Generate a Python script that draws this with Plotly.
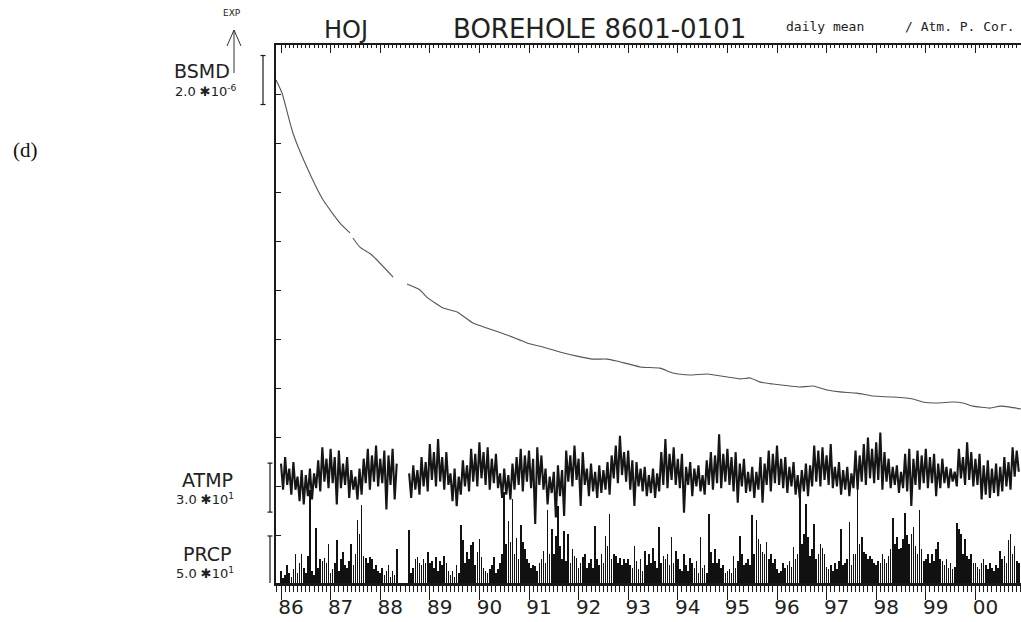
import plotly.graph_objects as go

# ---------------- data ----------------
year_ticks = list(range(1986, 2001))
year_labels = ["86", "87", "88", "89", "90", "91", "92", "93", "94", "95",
               "96", "97", "98", "99", "00"]

# BSMD (borehole strain, relative, units of 1e-6)
bsmd_t = [1985.90, 1986.02, 1986.24, 1986.52, 1986.85, 1987.19, 1987.39, None,
          1987.45, 1987.59, 1987.83, 1988.26, None,
          1988.54, 1988.80, 1988.94, 1989.27, 1989.55, 1989.87, 1990.15, 1990.56,
          1990.96, 1991.28, 1991.62, 1991.97, 1992.29, 1992.57, 1992.77, 1993.24,
          1993.64, 1993.90, 1994.25, 1994.59, 1995.00, 1995.26, 1995.46, 1995.66,
          1995.92, 1996.26, 1996.46, 1996.73, 1997.01, 1997.27, 1997.61, 1997.94,
          1998.34, 1998.74, 1998.94, 1999.23, 1999.55, 1999.75, 1999.95, 2000.29,
          2000.50, 2000.70, 2000.92]
bsmd_v = [0.00, -0.53, -2.16, -3.55, -4.90, -5.84, -6.24, None,
          -6.45, -6.82, -7.14, -8.04, None,
          -8.33, -8.57, -8.86, -9.31, -9.47, -9.92, -10.12, -10.41,
          -10.73, -10.90, -11.10, -11.27, -11.39, -11.39, -11.47, -11.71,
          -11.76, -11.96, -12.04, -12.00, -12.12, -12.20, -12.16, -12.33,
          -12.41, -12.49, -12.53, -12.49, -12.65, -12.73, -12.78, -12.90,
          -12.94, -13.02, -13.14, -13.18, -13.14, -13.18, -13.31, -13.39,
          -13.31, -13.35, -13.43]

# ATMP (air temperature), half-monthly samples starting 1986.0
atmp_start = 1986.0
atmp_step = 1.0 / 24
atmp = [
    17, 1, 21, 4, 14, -2, 18, 1, 9, -6, 13, -8, 10, -3, 14, -5, 11, 2, 19, 0, 27, 6, 20, 2,           # 1986
    26, 5, 21, -8, 25, 2, 17, 4, 21, -4, 13, 1, 9, -5, 14, -2, 20, 5, 26, 1, 22, 6, 28, 3,            # 1987
    20, 5, 25, -11, 22, 4, 26, -5, 17, None, None, None, None, None, 11, -4, 16, 1, 13, -2, 21, 3, 18, 0,  # 1988
    29, 7, 24, 3, 32, 6, 21, 1, 24, 4, 11, -6, 14, -9, 9, -2, 19, 3, 16, 0, 26, 6, 23, 3,             # 1989
    30, 8, 24, 4, 27, 1, 20, 5, 23, 2, 11, -4, 14, -2, 10, -5, 17, 1, 21, 4, 26, 0, 22, 6,            # 1990
    25, 2, 20, -20, 27, 4, 22, 1, 14, -8, 9, -1, 12, -16, 16, -3, 13, -15, 25, 6, 22, 3, 28, 7,       # 1991
    20, -9, 24, 4, 14, -3, 17, 0, 12, -4, 16, -1, 13, 1, 18, -2, 22, 8, 28, 5, 34, 10, 24, 6,         # 1992
    25, 1, 19, -9, 18, 3, 14, 0, 15, -3, 10, -1, 14, -4, 11, 0, 24, 4, 32, 2, 23, 7, 27, 4,           # 1993
    20, 2, 23, -13, 15, 4, 18, -3, 14, 3, 16, 0, 10, -2, 19, 4, 24, 1, 22, 5, 35, 2, 23, 6,           # 1994
    26, 4, 21, 0, 24, -7, 17, 3, 20, -1, 12, 0, 15, -4, 12, 1, 21, -7, 17, 4, 25, 0, 23, 5,           # 1995
    28, 4, 20, 2, 21, -1, 15, 3, 18, -2, 10, -4, 13, 0, 17, -3, 16, 3, 28, 6, 25, 3, 27, 7,           # 1996
    22, 4, 29, 2, 15, 3, 18, -2, 13, 1, 15, -3, 11, 2, 25, 1, 22, 6, 29, 4, 33, 8, 26, 5,             # 1997
    30, 7, 36, 1, 24, 6, 20, 2, 15, 4, 16, -1, 12, 2, 23, 0, 26, -9, 20, 4, 25, 1, 22, 5,             # 1998
    26, 2, 21, 5, 23, -3, 17, 2, 20, 5, 15, 2, 14, 6, 12, 3, 26, 8, 21, 4, 30, 7, 24, 3,              # 1999
    20, 4, 23, -5, 16, -2, 19, -4, 14, -1, 17, -3, 15, 0, 21, 3, 18, 1, 27, 9, 25, 12,                # 2000
]

# PRCP (precipitation, mm), half-monthly maxima starting 1986.0
prcp_start = 1986.0
prcp_step = 1.0 / 24
prcp = [
    12, 5, 8, 18, 10, 6, 14, 30, 10, 20, 30, 15, 10, 28, 95, 12, 8, 56, 15, 24, 22, 26, 20, 40,      # 1986
    10, 14, 20, 44, 12, 25, 32, 18, 15, 22, 40, 18, 30, 64, 50, 80, 28, 26, 20, 27, 25, 14, 18, 12,  # 1987
    10, 15, 8, 12, 18, 6, 12, 8, 35, None, None, None, None, None, 54, 10, 15, 25, 27, 20, 18, 25, 20, 32,  # 1988
    20, 22, 15, 27, 12, 22, 18, 28, 20, 12, 8, 12, 6, 18, 10, 59, 44, 20, 32, 24, 39, 42, 18, 32,    # 1989
    45, 27, 15, 12, 10, 14, 18, 27, 10, 14, 20, 30, 93, 40, 63, 42, 86, 30, 46, 25, 59, 42, 35, 25,  # 1990
    20, 15, 18, 17, 12, 20, 25, 33, 20, 74, 30, 55, 30, 48, 79, 38, 25, 53, 22, 50, 20, 35, 28, 26,  # 1991
    15, 20, 27, 30, 15, 20, 24, 15, 58, 25, 18, 30, 20, 48, 38, 70, 25, 30, 28, 20, 26, 18, 24, 20,  # 1992
    24, 18, 15, 38, 22, 14, 25, 12, 33, 18, 30, 20, 36, 22, 15, 57, 20, 28, 24, 30, 18, 47, 20, 33,  # 1993
    24, 14, 12, 30, 18, 12, 26, 20, 15, 22, 10, 47, 15, 18, 10, 70, 32, 20, 35, 20, 24, 15, 18, 10,  # 1994
    12, 14, 10, 28, 15, 22, 48, 30, 18, 20, 25, 18, 69, 30, 64, 45, 40, 32, 30, 42, 24, 30, 20, 25,  # 1995
    14, 10, 12, 20, 15, 18, 22, 16, 37, 25, 30, 91, 40, 50, 81, 47, 28, 35, 60, 25, 30, 40, 36, 30,  # 1996
    16, 14, 18, 12, 20, 14, 22, 55, 18, 20, 25, 62, 18, 30, 30, 101, 40, 47, 32, 30, 25, 28, 24, 20, # 1997
    18, 22, 20, 30, 24, 20, 28, 35, 66, 40, 47, 35, 36, 45, 71, 49, 40, 50, 57, 38, 30, 74, 35, 22,  # 1998
    25, 30, 20, 30, 22, 35, 42, 25, 22, 18, 24, 15, 20, 14, 16, 61, 55, 50, 30, 45, 28, 25, 30, 20,  # 1999
    20, 16, 14, 20, 25, 18, 14, 20, 15, 12, 18, 15, 33, 25, 28, 20, 44, 50, 30, 38, 22, 20,          # 2000
]

# scale bars (value spans shown by the bars)
bsmd_bar = (-1.0, 1.0)      # 2.0 x 1e-6
atmp_bar = (-12.7, 17.3)    # 30
prcp_bar = (-2.0, 48.0)     # 50

# ---------------- layout geometry ----------------
W, H = 1021, 622
L, R, T, B = 276, 0, 45, 39
PW, PH = W - L - R, H - T - B
PX_PER_YEAR = 49.6
x0 = 1986 - 5 / PX_PER_YEAR
x1 = x0 + PW / PX_PER_YEAR


def px(xpix):
    return (xpix - L) / PW


def py(ypix):
    return (T + PH - ypix) / PH


atmp_t = [atmp_start + k * atmp_step for k in range(len(atmp))]
prcp_t = [prcp_start + k * prcp_step for k in range(len(prcp))]

INK = "#1a1a1a"
FONT = "DejaVu Sans"

fig = go.Figure()

fig.add_trace(go.Scatter(x=bsmd_t, y=bsmd_v, mode="lines", yaxis="y",
                         line=dict(color="#555555", width=1.1, shape="spline", smoothing=0.5),
                         connectgaps=False, hoverinfo="skip", showlegend=False))
fig.add_trace(go.Scatter(x=atmp_t, y=atmp, mode="lines", yaxis="y2",
                         line=dict(color="#151515", width=2.1),
                         connectgaps=False, hoverinfo="skip", showlegend=False))
fig.add_trace(go.Bar(x=prcp_t, y=prcp, yaxis="y3", width=1 / 75,
                     marker=dict(color="#111111", line=dict(width=0)),
                     hoverinfo="skip", showlegend=False))
# carrier for the top ruler axis
fig.add_trace(go.Scatter(x=[bsmd_t[0]], y=[bsmd_v[0]], xaxis="x2", yaxis="y",
                         mode="markers", marker=dict(opacity=0), hoverinfo="skip",
                         showlegend=False))

axis_common = dict(showgrid=False, zeroline=False, automargin=False)

fig.update_layout(
    width=W, height=H,
    margin=dict(l=L, r=R, t=T, b=B, pad=0, autoexpand=False),
    paper_bgcolor="white", plot_bgcolor="white",
    showlegend=False, bargap=0,
    xaxis=dict(range=[x0, x1], tickvals=year_ticks, ticktext=year_labels,
               ticks="outside", ticklen=14, tickwidth=1.2, tickcolor=INK,
               showline=True, linecolor=INK, linewidth=2.6,
               minor=dict(ticks="outside", ticklen=6, tickwidth=1, tickcolor=INK,
                          dtick=1 / 12, tick0=1986),
               tickfont=dict(family=FONT, size=20, color="#222222"),
               ticklabelshift=10, ticklabelstandoff=-10,
               **axis_common),
    xaxis2=dict(range=[x0, x1], overlaying="x", side="top", anchor="y",
                tickvals=year_ticks, showticklabels=False,
                ticks="inside", ticklen=8, tickwidth=1.1, tickcolor=INK,
                showline=True, linecolor=INK, linewidth=1.6,
                minor=dict(ticks="inside", ticklen=3, tickwidth=1, tickcolor=INK,
                           dtick=1 / 12, tick0=1986),
                **axis_common),
    yaxis=dict(range=[-20.53, 1.43], showline=True, linecolor=INK, linewidth=1.6,
               ticks="inside", ticklen=5, tickwidth=1, tickcolor=INK,
               tick0=-0.571, dtick=2, showticklabels=False, **axis_common),
    yaxis2=dict(range=[-56.1, 273.3], overlaying="y", visible=False, **axis_common),
    yaxis3=dict(range=[0, 549.0], overlaying="y", visible=False, **axis_common),
)

# scale bars
shapes = []


def scale_bar(xpix, yref, v0, v1):
    xp = px(xpix)
    d = 2.5 / PW
    line = dict(color=INK, width=1.2)
    shapes.append(dict(type="line", xref="paper", yref=yref, x0=xp, x1=xp, y0=v0, y1=v1, line=line))
    shapes.append(dict(type="line", xref="paper", yref=yref, x0=xp - d, x1=xp + d, y0=v0, y1=v0, line=line))
    shapes.append(dict(type="line", xref="paper", yref=yref, x0=xp - d, x1=xp + d, y0=v1, y1=v1, line=line))


scale_bar(263, "y", *bsmd_bar)
scale_bar(270, "y2", *atmp_bar)
scale_bar(270, "y3", *prcp_bar)

# EXP arrow
arrow_line = dict(color="#333333", width=1)
shapes.append(dict(type="line", xref="paper", yref="paper",
                   x0=px(234), x1=px(234), y0=py(30), y1=py(73), line=arrow_line))
shapes.append(dict(type="line", xref="paper", yref="paper",
                   x0=px(234), x1=px(227), y0=py(30), y1=py(46), line=arrow_line))
shapes.append(dict(type="line", xref="paper", yref="paper",
                   x0=px(234), x1=px(241), y0=py(30), y1=py(46), line=arrow_line))
fig.update_layout(shapes=shapes)


def label(text, xpix, ypix, size, family=FONT, color="#222222"):
    fig.add_annotation(text=text, x=px(xpix), y=py(ypix), xref="paper", yref="paper",
                       xanchor="center", yanchor="middle", showarrow=False,
                       font=dict(family=family, size=size, color=color))


label("EXP", 232, 13, 9)
label("BSMD", 202, 71, 19)
label("2.0 ✱10<sup>-6</sup>", 206, 91, 13)
label("ATMP", 207, 480, 19)
label("3.0 ✱10<sup>1</sup>", 205, 499, 13)
label("PRCP", 207, 554, 19)
label("5.0 ✱10<sup>1</sup>", 205, 573, 13)
label("HOJ", 346, 30, 24)
label("BOREHOLE 8601-0101", 599, 29, 26)
label("daily mean", 825, 26, 13, family="DejaVu Sans Mono")
label("/ Atm. P. Cor.", 960, 26, 13, family="DejaVu Sans Mono")
label("(d)", 25, 150, 21, family="Liberation Serif", color="#111111")

fig.write_html("out.html",
               config={"displayModeBar": False},
               post_script="document.body.style.margin='0';document.body.style.padding='0';")
